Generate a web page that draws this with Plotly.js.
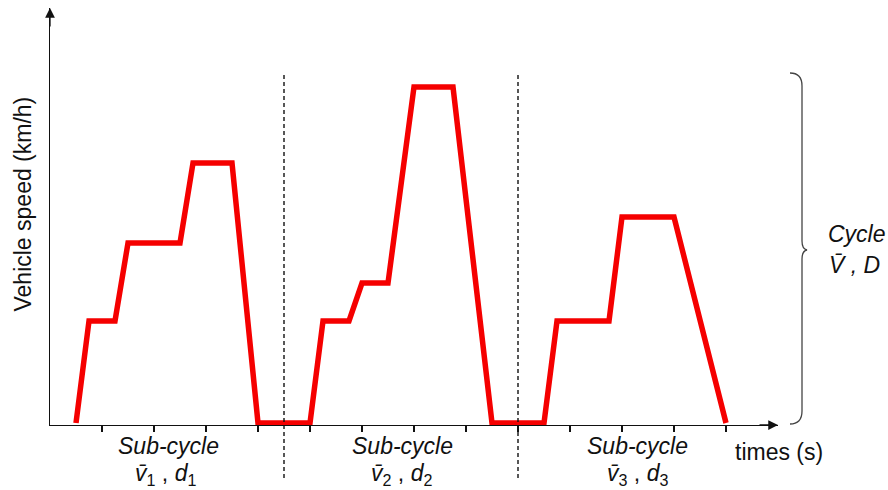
<!DOCTYPE html>
<html>
<head>
<meta charset="utf-8">
<script src="https://cdn.plot.ly/plotly-3.0.1.min.js"></script>
<style>html,body{margin:0;padding:0;background:#fff;}#chart{width:888px;height:490px;}</style>
</head>
<body>
<div id="chart"></div>
<script>
// ---- data ----
const timeS = [0.5, 0.75, 1.25, 1.5, 2.5, 2.75, 3.5, 4, 5, 5.25, 5.75, 6, 6.5, 7, 7.75, 8.5, 9.5, 9.75, 10.75, 11, 12, 13];
const speedKmh = [0, 25.5, 25.5, 45, 45, 65, 65, 0, 0, 25.5, 25.5, 35, 35, 84, 84, 0, 0, 25.5, 25.5, 51.5, 51.5, 0];
const tickVals = [1, 2, 3, 4, 5, 6, 7, 8, 9, 10, 11, 12, 13];
const subCycleBounds = [4.5, 9];
const subCycleNames = ["Sub-cycle", "Sub-cycle", "Sub-cycle"];
const subCycleStats = [
  "<i>v\u0304</i><sub>1</sub> , <i>d</i><sub>1</sub>",
  "<i>v\u0304</i><sub>2</sub> , <i>d</i><sub>2</sub>",
  "<i>v\u0304</i><sub>3</sub> , <i>d</i><sub>3</sub>"
];
const xTitle = "times (s)";
const yTitle = "Vehicle speed (km/h)";
const cycleName = "Cycle";
const cycleStats = "<i>V\u0304 , D</i>";

// ---- layout helpers (pixel -> paper) ----
const W = 888, H = 490;
const M = {l: 50, r: 110, t: 8, b: 65};
const pw = W - M.l - M.r, ph = H - M.t - M.b;
const px = v => (v - M.l) / pw;
const py = v => (H - M.b - v) / ph;

const FONT = "Liberation Sans, Arial, Helvetica, sans-serif";
const INK = "#111";

const traces = [{
  type: "scatter", mode: "lines",
  x: timeS, y: speedKmh,
  line: {color: "#f50000", width: 5.5},
  hoverinfo: "skip", showlegend: false
}];

const shapes = subCycleBounds.map(b => ({
  type: "line", xref: "x", yref: "paper",
  x0: b, x1: b, y0: py(478), y1: py(73),
  line: {color: INK, width: 1.4, dash: "4px,3px"}, layer: "above"
}));
// right brace
const bp = [
  ["M", 790, 73], ["Q", 802, 73, 802, 86], ["L", 802, 241],
  ["Q", 802, 249, 807, 250], ["Q", 802, 251, 802, 259],
  ["L", 802, 411], ["Q", 802, 424, 790, 424]
];
const braceD = bp.map(s => s[0] + s.slice(1).map((v, i) => (i % 2 === 0 ? px(v) : py(v)).toFixed(5)).join(",")).join(" ");
shapes.push({type: "path", xref: "paper", yref: "paper", path: braceD,
  line: {color: "#444", width: 1.3}});

const subX = [[168, 165], [402, 401], [637, 637]];
const annotations = [];
subCycleNames.forEach((n, i) => {
  annotations.push({xref: "paper", yref: "paper", x: px(subX[i][0]), y: py(446),
    text: "<i>" + n + "</i>", showarrow: false, xanchor: "center", yanchor: "middle",
    font: {family: FONT, size: 23, color: INK}});
  annotations.push({xref: "paper", yref: "paper", x: px(subX[i][1]), y: py(475),
    text: subCycleStats[i], showarrow: false, xanchor: "center", yanchor: "middle",
    font: {family: FONT, size: 23, color: INK}});
});
annotations.push({xref: "paper", yref: "paper", x: px(779), y: py(452),
  text: xTitle, showarrow: false, xanchor: "center", yanchor: "middle",
  font: {family: FONT, size: 23, color: INK}});
annotations.push({xref: "paper", yref: "paper", x: px(22.5), y: py(204),
  text: yTitle, textangle: -90, showarrow: false, xanchor: "center", yanchor: "middle",
  font: {family: FONT, size: 23, color: INK}});
annotations.push({xref: "paper", yref: "paper", x: px(857), y: py(234),
  text: "<i>" + cycleName + "</i>", showarrow: false, xanchor: "center", yanchor: "middle",
  font: {family: FONT, size: 23, color: INK}});
annotations.push({xref: "paper", yref: "paper", x: px(854), y: py(265),
  text: cycleStats, showarrow: false, xanchor: "center", yanchor: "middle",
  font: {family: FONT, size: 23, color: INK}});
// axis arrowheads
annotations.push({xref: "paper", yref: "paper", x: 0, y: 1, ax: 0, ay: 20,
  text: "", showarrow: true, arrowhead: 2, arrowsize: 1.5, arrowwidth: 1.3,
  arrowcolor: INK, standoff: 0});
annotations.push({xref: "paper", yref: "paper", x: 1, y: 0, ax: -20, ay: 0,
  text: "", showarrow: true, arrowhead: 2, arrowsize: 1.5, arrowwidth: 1.3,
  arrowcolor: INK, standoff: 0});

const axBase = {showgrid: false, zeroline: false, showticklabels: false, fixedrange: true};
const layout = {
  width: W, height: H, margin: M,
  paper_bgcolor: "#fff", plot_bgcolor: "#fff", showlegend: false,
  xaxis: Object.assign({}, axBase, {range: [0, 14], showline: true, linecolor: INK, linewidth: 1.3,
    tickmode: "array", tickvals: tickVals, ticks: "outside", ticklen: 6, tickwidth: 1.2, tickcolor: INK}),
  xaxis2: Object.assign({}, axBase, {range: [0, 14], overlaying: "x", anchor: "y", side: "bottom",
    showline: false, tickmode: "array", tickvals: tickVals, ticks: "inside", ticklen: 6, tickwidth: 1.2, tickcolor: INK}),
  yaxis: Object.assign({}, axBase, {range: [-0.5, 103.75], showline: true, linecolor: INK, linewidth: 1.3, ticks: ""}),
  shapes: shapes, annotations: annotations
};
Plotly.newPlot("chart", traces, layout, {staticPlot: true, displayModeBar: false});
</script>
</body>
</html>
